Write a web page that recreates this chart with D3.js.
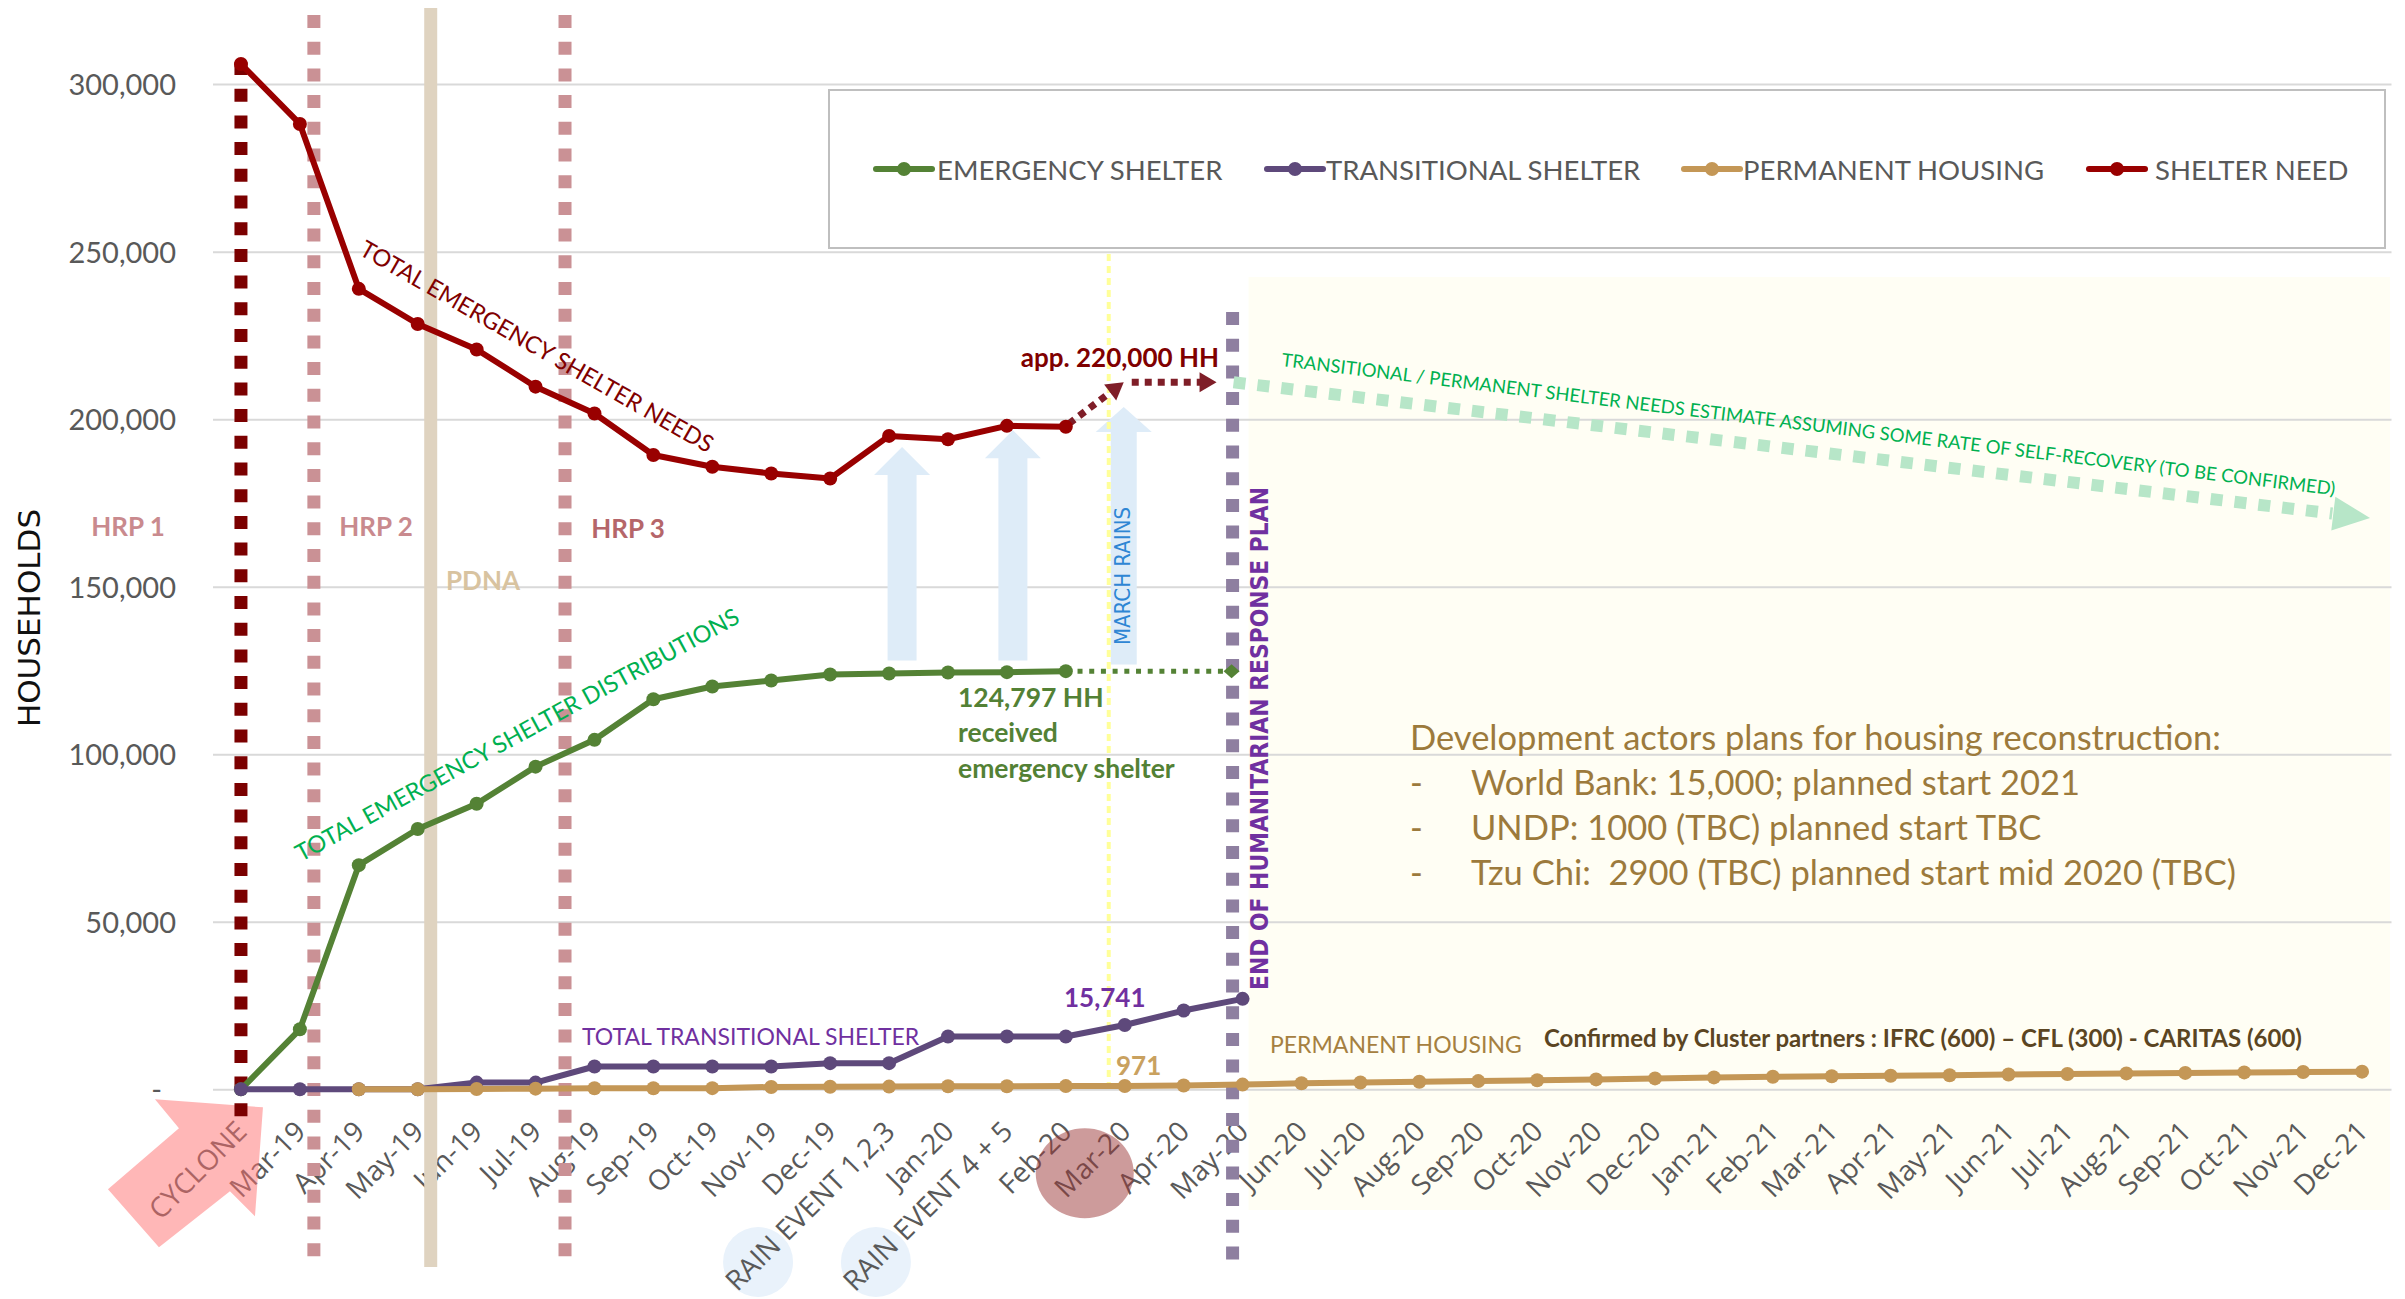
<!DOCTYPE html>
<html lang="en">
<head>
<meta charset="UTF-8">
<title>Shelter response timeline</title>
<script src="https://cdn.jsdelivr.net/npm/d3@7/dist/d3.min.js"></script>
<style>
  body { margin: 0; background: #fff; }
  svg { display: block; }
</style>
</head>
<body>
<svg id="chart" width="2405" height="1299"></svg>
<script>
"use strict";

// months since the cyclone, with the two rain events slotted in
var categories = ['CYCLONE', 'Mar-19', 'Apr-19', 'May-19', 'Jun-19', 'Jul-19', 'Aug-19', 'Sep-19', 'Oct-19',
  'Nov-19', 'Dec-19', 'RAIN EVENT 1,2,3', 'Jan-20', 'RAIN EVENT 4 + 5', 'Feb-20', 'Mar-20', 'Apr-20', 'May-20',
  'Jun-20', 'Jul-20', 'Aug-20', 'Sep-20', 'Oct-20', 'Nov-20', 'Dec-20', 'Jan-21', 'Feb-21', 'Mar-21', 'Apr-21',
  'May-21', 'Jun-21', 'Jul-21', 'Aug-21', 'Sep-21', 'Oct-21', 'Nov-21', 'Dec-21'];
var yTicks = [0, 50000, 100000, 150000, 200000, 250000, 300000];

// values start at CYCLONE; null = no value
var emergencyShelter = [0, 17900, 66900, 77700, 85200, 96300, 104300, 116400, 120200, 122000, 123800, 124100, 124400, 124500, 124797];
var transitionalShelter = [0, 0, 0, 0, 2000, 2000, 6800, 6800, 6800, 6800, 7800, 7800, 15741, 15741, 15741, 19200, 23500, 27000];
var permanentHousing = [null, null, 0, 0, 100, 200, 300, 300, 350, 700, 750, 800, 900, 900, 950, 971, 1150, 1400,
  1800, 2050, 2250, 2450, 2700, 2950, 3250, 3550, 3750, 3900, 4050, 4200, 4400, 4550, 4750, 4900, 5050, 5150, 5270];
var shelterNeed = [306000, 288100, 238900, 228400, 220800, 209700, 201700, 189300, 185800, 183800, 182300, 195000, 194000, 198000, 197750];

var seriesNames = ['EMERGENCY SHELTER', 'TRANSITIONAL SHELTER', 'PERMANENT HOUSING', 'SHELTER NEED'];
var seriesColors = ['#548235', '#5e497b', '#c49756', '#990000'];

var emergencyCarried = 124797;    // carried to end of HRP
var needEstimate = 211000;        // "app. 220,000 HH"
var recoveryEstimateEnd = 170500; // projected need, Dec-21

var LATO = "Lato, 'Open Sans', sans-serif";
var SEGOE = "'Open Sans', sans-serif";
var GOTHIC = "'DejaVu Sans', sans-serif";

var svg = d3.select('#chart');
var x = d3.scalePoint().domain(categories).range([211.5, 2391.5]).padding(0.5);
var y = d3.scaleLinear().domain([0, 300000]).range([1089.3, 84.1]);

// post-HRP shaded area
svg.append('rect')
  .attr('x', x('May-20') + 6).attr('y', 277)
  .attr('width', 2390 - x('May-20') - 6).attr('height', 933)
  .attr('fill', '#fffef4');

// y axis + gridlines
var gy = svg.append('g').attr('transform', 'translate(213,0)')
  .call(d3.axisLeft(y).tickValues(yTicks).tickSize(-(2391.5 - 213)).tickPadding(37)
    .tickFormat(function(d) { return d === 0 ? '-' : d3.format(',')(d); }));
gy.select('.domain').remove();
gy.selectAll('.tick line').attr('stroke', '#d9d9d9').attr('stroke-width', 2);
gy.selectAll('.tick text').attr('fill', '#595959').attr('dy', '0.36em')
  .style('font-family', LATO).style('font-size', '29px');
gy.selectAll('.tick text').filter(function(d) { return d === 0; }).attr('dx', -14);

// rain event circles behind labels
['RAIN EVENT 1,2,3', 'RAIN EVENT 4 + 5'].forEach(function(c) {
  svg.append('ellipse').attr('cx', x(c) - 131).attr('cy', 1262)
    .attr('rx', 35).attr('ry', 35).attr('fill', '#e9f2fb');
});

// rain arrows
function upArrow(cx, tip, base, bottom, hw, sw) {
  return 'M' + cx + ',' + tip + 'L' + (cx + hw) + ',' + base + 'L' + (cx + sw) + ',' + base +
    'L' + (cx + sw) + ',' + bottom + 'L' + (cx - sw) + ',' + bottom + 'L' + (cx - sw) + ',' + base +
    'L' + (cx - hw) + ',' + base + 'Z';
}
var rainArrows = [
  { cx: x('RAIN EVENT 1,2,3') + 13, tip: y(191700), head: 28, bottom: y(128000), sw: 14.5 },
  { cx: x('RAIN EVENT 4 + 5') + 6, tip: y(196700), head: 28, bottom: y(128000), sw: 14.5 },
  { cx: x('Mar-20') - 1, tip: y(203600), head: 25, bottom: y(126800), sw: 13 }
];
svg.selectAll('path.rain').data(rainArrows).enter().append('path')
  .attr('class', 'rain')
  .attr('d', function(d) { return upArrow(d.cx, d.tip, d.tip + d.head, d.bottom, 28, d.sw); })
  .attr('fill', '#deecf8');

// x axis labels
var gx = svg.append('g').attr('transform', 'translate(0,' + y(0) + ')')
  .call(d3.axisBottom(x).tickSize(0));
gx.select('.domain').remove();
gx.selectAll('.tick text').attr('y', null).attr('dy', null)
  .attr('transform', 'translate(7,44) rotate(-45)')
  .attr('text-anchor', 'end').attr('fill', '#595959')
  .style('font-family', SEGOE).style('font-size', '28px');

// cyclone arrow and March highlight, laid over the labels
var cx0 = x('CYCLONE'), cy0 = y(0);
var cyclonePts = [[-86, 10], [22, 18], [14, 127], [-11, 102], [-82, 158], [-133, 100], [-62, 39]];
svg.append('path')
  .attr('d', 'M' + cyclonePts.map(function(p) { return (cx0 + p[0]) + ',' + (cy0 + p[1]); }).join('L') + 'Z')
  .attr('fill', '#ff7070').attr('opacity', 0.5);
svg.append('ellipse').attr('cx', x('Mar-20') - 40).attr('cy', y(0) + 84)
  .attr('rx', 49).attr('ry', 45).attr('fill', '#9b3737').attr('opacity', 0.5);

// vertical reference lines
function vline(px, y0, y1, color, width, dash) {
  svg.append('line').attr('x1', px).attr('x2', px).attr('y1', y0).attr('y2', y1)
    .attr('stroke', color).attr('stroke-width', width).attr('stroke-dasharray', dash || null);
}
vline(x('Mar-19') + 14, 15, 1260, '#ca9195', 13, '13,13.7');
vline(x('May-19') + 13, 8, 1267, '#dfd3c0', 13);
vline((x('Jul-19') + x('Aug-19')) / 2, 15, 1260, '#ca9195', 13, '13,13.7');
vline(x('CYCLONE'), 62, 1117, '#7b0000', 13, '13,13.7');
vline(x('Mar-20') - 16, 242, 1090, '#ffff99', 4, '7,5');
vline(x('May-20') - 10, 312, 1262, '#8e7fa0', 13, '13,13.7');

// arrowhead helper
function head(tx, ty, ang, len, hw) {
  var bx = tx - len * Math.cos(ang), by = ty - len * Math.sin(ang);
  var nx = -Math.sin(ang) * hw, ny = Math.cos(ang) * hw;
  return 'M' + tx + ',' + ty + 'L' + (bx + nx) + ',' + (by + ny) + 'L' + (bx - nx) + ',' + (by - ny) + 'Z';
}

// recovery projection (light green)
var gs = [x('May-20') - 9, y(needEstimate)], ge = [x('Dec-21') + 8, y(recoveryEstimateEnd)];
var ga = Math.atan2(ge[1] - gs[1], ge[0] - gs[0]);
svg.append('line').attr('x1', gs[0]).attr('y1', gs[1])
  .attr('x2', ge[0] - 38 * Math.cos(ga)).attr('y2', ge[1] - 38 * Math.sin(ga))
  .attr('stroke', '#b7e6c8').attr('stroke-width', 12).attr('stroke-dasharray', '12,12');
svg.append('path').attr('d', head(ge[0], ge[1], ga, 37, 17)).attr('fill', '#b7e6c8');

// need estimate dotted arrows
var rs = [x('Feb-20') + 3, y(shelterNeed[14]) - 3], re = [x('Mar-20') - 1, y(needEstimate)];
var ra = Math.atan2(re[1] - rs[1], re[0] - rs[0]);
svg.append('line').attr('x1', rs[0]).attr('y1', rs[1])
  .attr('x2', re[0] - 15 * Math.cos(ra)).attr('y2', re[1] - 15 * Math.sin(ra))
  .attr('stroke', '#7f1e28').attr('stroke-width', 7).attr('stroke-dasharray', '7,6');
svg.append('path').attr('d', head(re[0], re[1], ra, 17, 10)).attr('fill', '#7f1e28');
var hx0 = x('Mar-20') + 7, hx1 = x('May-20') - 26;
svg.append('line').attr('x1', hx0).attr('x2', hx1 - 15).attr('y1', y(needEstimate)).attr('y2', y(needEstimate))
  .attr('stroke', '#7f1e28').attr('stroke-width', 7).attr('stroke-dasharray', '7,6');
svg.append('path').attr('d', head(hx1, y(needEstimate), 0, 17, 10)).attr('fill', '#7f1e28');

// emergency shelter carried forward
var ey = y(emergencyCarried), ex1 = x('May-20') - 11;
svg.append('line').attr('x1', x('Feb-20')).attr('x2', ex1).attr('y1', ey).attr('y2', ey)
  .attr('stroke', seriesColors[0]).attr('stroke-width', 5).attr('stroke-dasharray', '5,6.7');
svg.append('path').attr('d', 'M' + (ex1 - 8) + ',' + ey + 'L' + ex1 + ',' + (ey - 7) + 'L' + (ex1 + 8) + ',' + ey + 'L' + ex1 + ',' + (ey + 7) + 'Z')
  .attr('fill', seriesColors[0]);

// series
var seriesValues = [emergencyShelter, transitionalShelter, permanentHousing, shelterNeed];
var series = seriesNames.map(function(n, i) {
  return { name: n, color: seriesColors[i], values: seriesValues[i].map(function(v, j) { return { c: categories[j], v: v }; }) };
});
var line = d3.line().defined(function(d) { return d.v != null; })
  .x(function(d) { return x(d.c); }).y(function(d) { return y(d.v); });
var sg = svg.selectAll('g.series').data(series).enter().append('g').attr('class', 'series');
sg.append('path').attr('d', function(d) { return line(d.values); })
  .attr('fill', 'none').attr('stroke', function(d) { return d.color; })
  .attr('stroke-width', 6).attr('stroke-linejoin', 'round');
sg.selectAll('circle').data(function(d) { return d.values.filter(function(p) { return p.v != null; }).map(function(p) { p.color = d.color; return p; }); })
  .enter().append('circle')
  .attr('cx', function(d) { return x(d.c); }).attr('cy', function(d) { return y(d.v); })
  .attr('r', 7).attr('fill', function(d) { return d.color; });

// annotations
function txt(str, px, py, o) {
  var t = svg.append('text').attr('x', px).attr('y', py).text(str)
    .attr('fill', o.fill).style('font-family', o.font || LATO).style('font-size', o.size + 'px')
    .style('white-space', 'pre');
  if (o.bold) t.style('font-weight', 'bold');
  if (o.anchor) t.attr('text-anchor', o.anchor);
  if (o.rotate) t.attr('transform', 'rotate(' + o.rotate + ',' + px + ',' + py + ')');
  if (o.len) t.attr('textLength', o.len).attr('lengthAdjust', 'spacingAndGlyphs');
  return t;
}
txt('HRP 1', 128, 536, { fill: '#c98a8e', size: 26, bold: true, anchor: 'middle' });
txt('HRP 2', 376, 536, { fill: '#c98a8e', size: 26, bold: true, anchor: 'middle' });
txt('HRP 3', 628, 538, { fill: '#b5666a', size: 26, bold: true, anchor: 'middle' });
txt('PDNA', 483, 590, { fill: '#d8c3a0', size: 26, bold: true, anchor: 'middle' });
txt('TOTAL EMERGENCY SHELTER NEEDS', 358, 254, { fill: '#800000', size: 23.5, rotate: 29.7 });
txt('TOTAL EMERGENCY SHELTER DISTRIBUTIONS', 301, 862, { fill: '#00b050', size: 23.5, rotate: -28.6 });
txt('app. 220,000 HH', 1219, 367, { fill: '#7f0000', size: 26, bold: true, anchor: 'end' });
txt('TRANSITIONAL / PERMANENT SHELTER NEEDS ESTIMATE ASSUMING SOME RATE OF SELF-RECOVERY (TO BE CONFIRMED)',
  1281, 366, { fill: '#00b050', size: 18.5, rotate: 7 });
txt('124,797 HH', 958, 707, { fill: '#538135', size: 26.5, bold: true });
txt('received', 958, 742, { fill: '#538135', size: 26.5, bold: true });
txt('emergency shelter', 958, 778, { fill: '#538135', size: 26.5, bold: true });
txt('END OF HUMANITARIAN RESPONSE PLAN', 1268, 990, { fill: '#7030a0', size: 25, bold: true, font: GOTHIC, rotate: -90, len: 503 });
txt('MARCH RAINS', 1130, 645, { fill: '#2e86d4', size: 21, font: GOTHIC, rotate: -90, len: 138 });
txt('HOUSEHOLDS', 40, 618, { fill: '#111', size: 31, font: GOTHIC, rotate: -90, anchor: 'middle' });
txt('15,741', 1064, 1007, { fill: '#7030a0', size: 26, bold: true });
txt('TOTAL TRANSITIONAL SHELTER', 582, 1045, { fill: '#7030a0', size: 23 });
txt('971', 1116, 1075, { fill: '#c9a15f', size: 26, bold: true });
txt('PERMANENT HOUSING', 1270, 1053, { fill: '#a58040', size: 23 });
txt('Confirmed by Cluster partners : IFRC (600) \u2013 CFL (300) - CARITAS (600)', 1544, 1047, { fill: '#5b4522', size: 24, bold: true });
txt('Development actors plans for housing reconstruction:', 1410, 750, { fill: '#9c7a3c', size: 34.5 });
var devLines = ['World Bank: 15,000; planned start 2021', 'UNDP: 1000 (TBC) planned start TBC', 'Tzu Chi:  2900 (TBC) planned start mid 2020 (TBC)'];
devLines.forEach(function(s, i) {
  txt('-', 1410, 795 + i * 45, { fill: '#9c7a3c', size: 34.5 });
  txt(s, 1471, 795 + i * 45, { fill: '#9c7a3c', size: 34.5 });
});

// legend
var legend = svg.append('g');
legend.append('rect').attr('x', 829).attr('y', 90).attr('width', 1556).attr('height', 158)
  .attr('fill', '#fff').attr('stroke', '#bfbfbf').attr('stroke-width', 2);
var legendX = [876, 1267, 1684, 2089], legendTextX = [937, 1326, 1743, 2155];
series.forEach(function(s, i) {
  legend.append('line').attr('x1', legendX[i]).attr('x2', legendX[i] + 56).attr('y1', 169).attr('y2', 169)
    .attr('stroke', s.color).attr('stroke-width', 6).attr('stroke-linecap', 'round');
  legend.append('circle').attr('cx', legendX[i] + 28).attr('cy', 169).attr('r', 7).attr('fill', s.color);
  legend.append('text').attr('x', legendTextX[i]).attr('y', 180).text(s.name)
    .attr('fill', '#595959').style('font-family', LATO).style('font-size', '27.5px');
});
</script>
</body>
</html>
